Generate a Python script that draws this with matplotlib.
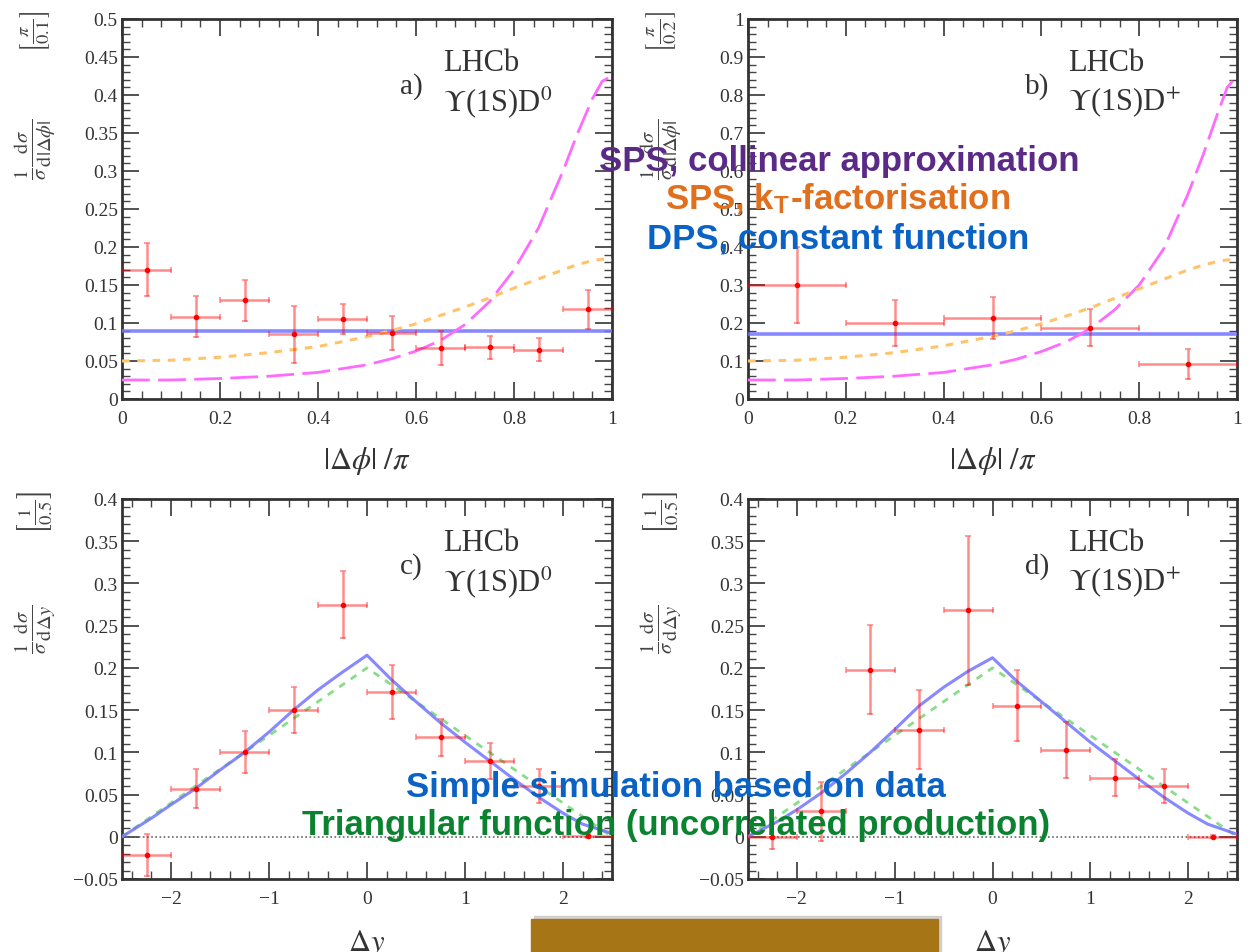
import matplotlib
matplotlib.use("Agg")
import matplotlib.pyplot as plt
from matplotlib.patches import Rectangle
from matplotlib.ticker import AutoMinorLocator, FuncFormatter

# ---- data ----
phi_d0_x = [0.05, 0.15, 0.25, 0.35, 0.45, 0.55, 0.65, 0.75, 0.85, 0.95]
phi_d0_y = [0.170, 0.108, 0.130, 0.085, 0.105, 0.087, 0.067, 0.068, 0.065, 0.118]
phi_d0_err = [0.035, 0.027, 0.027, 0.037, 0.020, 0.022, 0.022, 0.015, 0.015, 0.026]
phi_d0_dps = 0.090

phi_dp_x = [0.1, 0.3, 0.5, 0.7, 0.9]
phi_dp_y = [0.300, 0.200, 0.213, 0.188, 0.092]
phi_dp_err = [0.100, 0.060, 0.055, 0.048, 0.040]
phi_dp_dps = 0.170

# SPS curves (collinear, kT-factorisation)
curve_x = [0.0, 0.1, 0.2, 0.3, 0.4, 0.5, 0.55, 0.6, 0.65, 0.7, 0.75, 0.8, 0.85, 0.9, 0.93, 0.96, 0.98, 1.0]
coll_d0 = [0.025, 0.025, 0.027, 0.030, 0.035, 0.045, 0.053, 0.063, 0.077, 0.098, 0.128, 0.170, 0.225, 0.300, 0.350, 0.395, 0.418, 0.425]
kt_d0 = [0.050, 0.051, 0.055, 0.061, 0.069, 0.082, 0.090, 0.099, 0.110, 0.121, 0.133, 0.146, 0.158, 0.170, 0.177, 0.182, 0.184, 0.183]
coll_dp = [0.050, 0.050, 0.054, 0.060, 0.070, 0.090, 0.105, 0.125, 0.150, 0.185, 0.235, 0.300, 0.395, 0.540, 0.640, 0.750, 0.820, 0.850]
kt_dp = [0.100, 0.102, 0.110, 0.122, 0.140, 0.165, 0.180, 0.198, 0.218, 0.240, 0.265, 0.290, 0.315, 0.340, 0.352, 0.362, 0.366, 0.366]

dy_x = [-2.25, -1.75, -1.25, -0.75, -0.25, 0.25, 0.75, 1.25, 1.75, 2.25]
dy_d0_y = [-0.022, 0.057, 0.100, 0.150, 0.275, 0.172, 0.118, 0.090, 0.060, 0.001]
dy_d0_err = [0.025, 0.023, 0.025, 0.027, 0.040, 0.032, 0.022, 0.021, 0.020, 0.002]
dy_dp_y = [0.000, 0.030, 0.198, 0.127, 0.268, 0.155, 0.103, 0.070, 0.060, 0.000]
dy_dp_err = [0.015, 0.035, 0.053, 0.047, 0.088, 0.042, 0.033, 0.022, 0.020, 0.002]

# simple simulation (blue) and triangular function (green)
sim_x = [-2.5, -2.2, -2.0, -1.75, -1.5, -1.25, -1.0, -0.75, -0.5, -0.25, 0.0, 0.25, 0.5, 0.75, 1.0, 1.25, 1.5, 1.75, 2.0, 2.2, 2.5]
sim_d0 = [0.000, 0.022, 0.038, 0.057, 0.079, 0.100, 0.124, 0.150, 0.174, 0.195, 0.215, 0.186, 0.160, 0.135, 0.112, 0.090, 0.068, 0.047, 0.028, 0.015, 0.004]
sim_dp = [0.000, 0.018, 0.032, 0.052, 0.075, 0.100, 0.127, 0.155, 0.177, 0.196, 0.212, 0.184, 0.160, 0.136, 0.112, 0.090, 0.068, 0.047, 0.028, 0.015, 0.003]
tri_x = [-2.5, 0.0, 2.5]
tri_y = [0.0, 0.200, 0.0]

plt.rcParams["font.family"] = ["Liberation Serif", "DejaVu Serif"]
plt.rcParams["mathtext.fontset"] = "stix"

W, H = 1255, 953
fig = plt.figure(figsize=(W / 100, H / 100), dpi=100)


def px_axes(left, top, right, bottom):
    return fig.add_axes([left / W, 1 - bottom / H, (right - left) / W, (bottom - top) / H])


fmt = FuncFormatter(lambda v, _: ("%g" % round(v, 3)).replace("-", "\u2212"))


def style(ax, xlim, ylim, xticks, yticks):
    ax.set_xlim(*xlim)
    ax.set_ylim(*ylim)
    ax.set_xticks(xticks)
    ax.set_yticks(yticks)
    ax.xaxis.set_minor_locator(AutoMinorLocator(5))
    ax.yaxis.set_minor_locator(AutoMinorLocator(5))
    ax.tick_params(which="both", direction="in", top=True, right=True, color="#444444")
    ax.tick_params(which="major", length=12, width=1.3, labelsize=14, pad=3, labelcolor="#333333")
    ax.tick_params(which="minor", length=6, width=1.0)
    ax.tick_params(axis="x", which="major", pad=8)
    ax.xaxis.set_major_formatter(fmt)
    ax.yaxis.set_major_formatter(fmt)
    for sp in ax.spines.values():
        sp.set_linewidth(2.0)
        sp.set_color("#333333")


def data(ax, x, y, xe, ye):
    ax.errorbar(x, y, xerr=xe, yerr=ye, fmt="o", ms=3, color="red",
                ecolor=(1, 0, 0, 0.45), elinewidth=1.8, capsize=2.5, capthick=1.2, zorder=4)


def tag(ax, letter, channel):
    ax.text(0.567, 0.825, letter, transform=ax.transAxes, fontsize=21,
            ha="left", va="center", color="#333333")
    ax.text(0.655, 0.885, "LHCb", transform=ax.transAxes, fontsize=22,
            ha="left", va="center", color="#333333")
    ax.text(0.655, 0.785, channel, transform=ax.transAxes, fontsize=22,
            ha="left", va="center", color="#333333")


def ylab(ax, main, unit):
    ax.text(-0.178, 1.025, unit, transform=ax.transAxes, rotation=90,
            ha="center", va="top", fontsize=19, color="#444444")
    ax.text(-0.178, 0.66, main, transform=ax.transAxes, rotation=90,
            ha="center", va="center", fontsize=21, color="#444444")


blue = (0.45, 0.45, 1.0, 0.85)
magenta = "#ff6bff"
orange = "#ffc46a"

ax_a = px_axes(122, 20, 612, 400)
ax_b = px_axes(748, 20, 1237, 400)
ax_c = px_axes(122, 500, 612, 880)
ax_d = px_axes(748, 500, 1237, 880)

for ax, xs, ys, es, dps, coll, kt, ymax, ystep, w, letter, chan, unit in [
    (ax_a, phi_d0_x, phi_d0_y, phi_d0_err, phi_d0_dps, coll_d0, kt_d0, 0.5, 0.05, 0.05, "a)",
     r"$\Upsilon$(1S)D$^{0}$", r"$\left[\frac{\pi}{0.1}\right]$"),
    (ax_b, phi_dp_x, phi_dp_y, phi_dp_err, phi_dp_dps, coll_dp, kt_dp, 1.0, 0.1, 0.1, "b)",
     r"$\Upsilon$(1S)D$^{+}$", r"$\left[\frac{\pi}{0.2}\right]$"),
]:
    style(ax, (0, 1), (0, ymax), [0, 0.2, 0.4, 0.6, 0.8, 1.0],
          [round(i * ystep, 3) for i in range(11)])
    ax.axhline(dps, color=blue, lw=2.6, zorder=3)
    ax.plot(curve_x, coll, color=magenta, lw=2.0, dashes=(10, 3), zorder=3)
    ax.plot(curve_x, kt, color=orange, lw=2.2, dashes=(2.5, 2.5), zorder=3)
    data(ax, xs, ys, w, es)
    tag(ax, letter, chan)
    ax.set_xlabel(r"$|\Delta\phi|\ /\pi$", fontsize=22, labelpad=12, color="#333333")
    ylab(ax, r"$\frac{1}{\sigma}\frac{\mathrm{d}\sigma}{\mathrm{d}|\Delta\phi|}$", unit)

for ax, ys, es, sim, letter, chan in [
    (ax_c, dy_d0_y, dy_d0_err, sim_d0, "c)", r"$\Upsilon$(1S)D$^{0}$"),
    (ax_d, dy_dp_y, dy_dp_err, sim_dp, "d)", r"$\Upsilon$(1S)D$^{+}$"),
]:
    style(ax, (-2.5, 2.5), (-0.05, 0.4), [-2, -1, 0, 1, 2],
          [round(-0.05 + i * 0.05, 3) for i in range(10)])
    ax.axhline(0, color="#666666", lw=1.2, ls=(0, (1, 1.5)), zorder=2)
    ax.plot(tri_x, tri_y, color="#88dd88", lw=2, dashes=(2.5, 2.5), zorder=3)
    ax.plot(sim_x, sim, color=blue, lw=2.2, zorder=3)
    data(ax, dy_x, ys, 0.25, es)
    tag(ax, letter, chan)
    ax.set_xlabel(r"$\Delta y$", fontsize=22, labelpad=14, color="#333333")
    ylab(ax, r"$\frac{1}{\sigma}\frac{\mathrm{d}\sigma}{\mathrm{d}\Delta y}$",
         r"$\left[\frac{1}{0.5}\right]$")

# slide overlay annotations
sans = ["Liberation Sans", "DejaVu Sans"]
overlay = dict(fontsize=25, fontweight="bold", family=sans, ha="center", va="center", zorder=10)
fig.text(839 / W, 1 - 161 / H, "SPS, collinear approximation", color="#5b2a86", **overlay)
fig.text(838 / W, 1 - 199 / H, r"SPS, k$_{\mathregular{T}}$-factorisation", color="#e0701e", **overlay)
fig.text(838 / W, 1 - 239 / H, "DPS, constant function", color="#0a62c4", **overlay)
fig.text(676 / W, 1 - 788 / H, "Simple simulation based on data", color="#0a62c4", **overlay)
fig.text(676 / W, 1 - 825 / H, "Triangular function (uncorrelated production)", color="#0b8230", **overlay)

# brown banner at the bottom
fig.patches.append(Rectangle((534 / W, 0), 407 / W, 36 / H, transform=fig.transFigure,
                             color="#bbbbbb", alpha=0.6, zorder=8))
fig.patches.append(Rectangle((531 / W, 0), 407 / W, 33 / H, transform=fig.transFigure,
                             color="#a57516", zorder=9))

fig.savefig("out.png", dpi=100)
